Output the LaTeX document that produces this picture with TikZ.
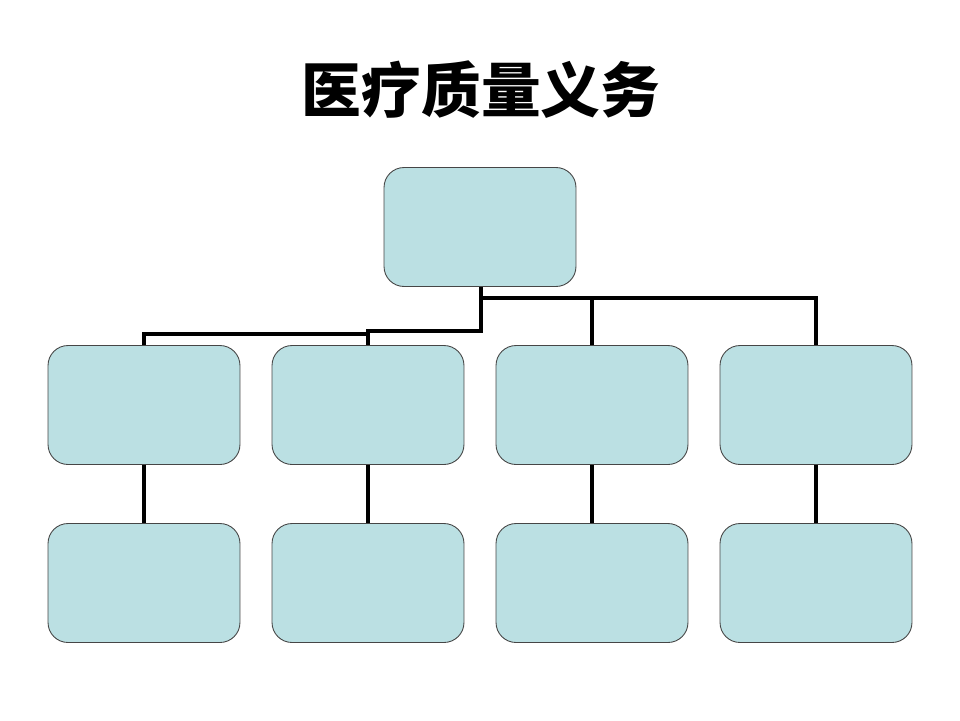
\documentclass[tikz,border=0pt]{standalone}
\usepackage{fontspec}
\newfontfamily\cjk{Noto Sans CJK SC}
\usetikzlibrary{positioning}
\definecolor{boxfill}{RGB}{187,224,227}
\definecolor{boxline}{RGB}{70,70,70}

\begin{document}
\begin{tikzpicture}[x=0.02cm, y=-0.02cm,
                box/.style={
                  draw=boxline, line width=0.5pt, fill=boxfill, rounded corners=0.4cm,
                  minimum width=3.84cm, minimum height=2.38cm, inner sep=0pt
                },
                link/.style={line width=2pt, draw=black},
              ]
  \useasboundingbox (0,0) rectangle (960,720);
  \node [font=\cjk\bfseries\fontsize{34}{38}\selectfont] at (481,90) (title) {医疗质量义务};

  \node [box] at (480,227) (top) {};
  % first row and second row
  \node [box] at (144,405) (a1) {};
  \node [box] at (368,405) (a2) {};
  \node [box] at (592,405) (a3) {};
  \node [box] at (816,405) (a4) {};
  \node [box] at (144,583) (c1) {};
  \node [box] at (368,583) (c2) {};
  \node [box] at (592,583) (c3) {};
  \node [box] at (816,583) (c4) {};

  \coordinate (busR) at (481,298);
  \coordinate (busL) at (481,331);
  \coordinate (busLL) at (368,334);
  \draw [link] (top.south -| busR) -- (busR) -| (a4.north);
  \draw [link] (busR) -| (a3.north);
  \draw [link] (busR) -- (busL) -| (a2.north);
  \draw [link] (busLL) -| (a1.north);

  \foreach \i in {1,...,4}
    \draw [link] (a\i.south) -- (c\i.north);
\end{tikzpicture}
\end{document}
